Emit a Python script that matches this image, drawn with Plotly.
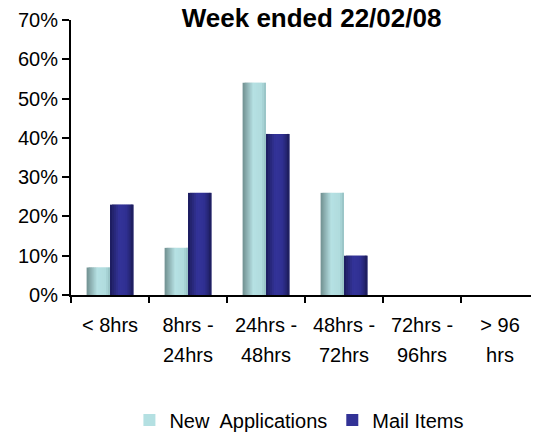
import plotly.graph_objects as go

category_lines = [["< 8hrs"], ["8hrs -", "24hrs"], ["24hrs -", "48hrs"],
                  ["48hrs -", "72hrs"], ["72hrs -", "96hrs"], ["> 96", "hrs"]]
new_applications = [0.07, 0.12, 0.54, 0.26, 0.0, 0.0]
mail_items = [0.23, 0.26, 0.41, 0.10, 0.0, 0.0]
y_ticks = [0, 0.1, 0.2, 0.3, 0.4, 0.5, 0.6, 0.7]
series_names = ["New  Applications", "Mail Items"]
title_text = "Week ended 22/02/08"

FONT = "Liberation Sans, Arial, sans-serif"
categories = ["<br>".join(l) for l in category_lines]
ticktext = ["<br>".join(f"<span style='font-size:20px'>{s}</span>" for s in l) for l in category_lines]


def lerp(c1, c2, t):
    return "#" + "".join(f"{round(a + (b - a) * t):02x}" for a, b in zip(c1, c2))


# gradient stops across each bar (left edge -> right edge)
new_stops = [(0.0, (0x6f, 0x8e, 0x8f)), (0.45, (0xb6, 0xe1, 0xe3)), (0.8, (0xb0, 0xdc, 0xde)), (1.0, (0x95, 0xc0, 0xc2))]
mail_stops = [(0.0, (0x1c, 0x1c, 0x5c)), (0.4, (0x34, 0x34, 0x9a)), (0.7, (0x30, 0x30, 0x92)), (1.0, (0x1c, 0x1c, 0x5a))]


def grad(stops, t):
    for (t0, c0), (t1, c1) in zip(stops, stops[1:]):
        if t <= t1:
            return lerp(c0, c1, (t - t0) / (t1 - t0))
    return lerp(stops[-1][1], stops[-1][1], 0)


BAR_W = 0.30
N = 12
fig = go.Figure()
for si, (vals, stops, name) in enumerate([(new_applications, new_stops, series_names[0]),
                                          (mail_items, mail_stops, series_names[1])]):
    start = -BAR_W + si * BAR_W
    for k in range(N):
        t = (k + 0.5) / N
        w = BAR_W / N
        fig.add_trace(go.Bar(
            x=categories, y=vals, width=w * (2 if k < N - 1 else 1), offset=start + k * w,
            marker=dict(color=grad(stops, t), line=dict(width=0)),
            name=name, legendgroup=name, showlegend=(k == N // 2),
            hoverinfo="skip" if k != N // 2 else None))

# page body has an 8px margin; figure is sized/offset so the plot lands where the reference has it
W, H = 531, 424
fig.update_layout(
    width=W, height=H,
    margin=dict(l=63, r=0, t=12, b=137, autoexpand=False),
    paper_bgcolor="white", plot_bgcolor="white",
    font=dict(family=FONT, size=20, color="black"),
    barmode="overlay",
    showlegend=True,
    legend=dict(orientation="h", x=0.487, xanchor="center", yref="container", y=1 - 412 / H,
                yanchor="middle", font=dict(size=20), tracegroupgap=0,
                traceorder="normal"),
    title=dict(text=f"<b>{title_text}</b>", xref="paper", yref="container",
               x=0.514, y=1 - 10 / H, yanchor="middle", xanchor="center",
               font=dict(size=26, family=FONT)),
)
fig.update_xaxes(showline=True, linecolor="black", linewidth=2, ticks="outside",
                 tickson="boundaries", ticklen=6, tickwidth=2, tickcolor="black",
                 showgrid=False, range=[-0.5, 5.5], tickfont=dict(size=23),
                 tickvals=categories, ticktext=ticktext, automargin=False,
                 ticklabelstandoff=7)
fig.update_yaxes(showline=True, linecolor="black", linewidth=2, ticks="outside",
                 ticklen=7, tickwidth=2, tickcolor="black", showgrid=False,
                 range=[0, 0.7], tickvals=y_ticks, tickformat=".0%", zeroline=False,
                 tickfont=dict(size=20), automargin=False)

fig.write_html("out.html")
